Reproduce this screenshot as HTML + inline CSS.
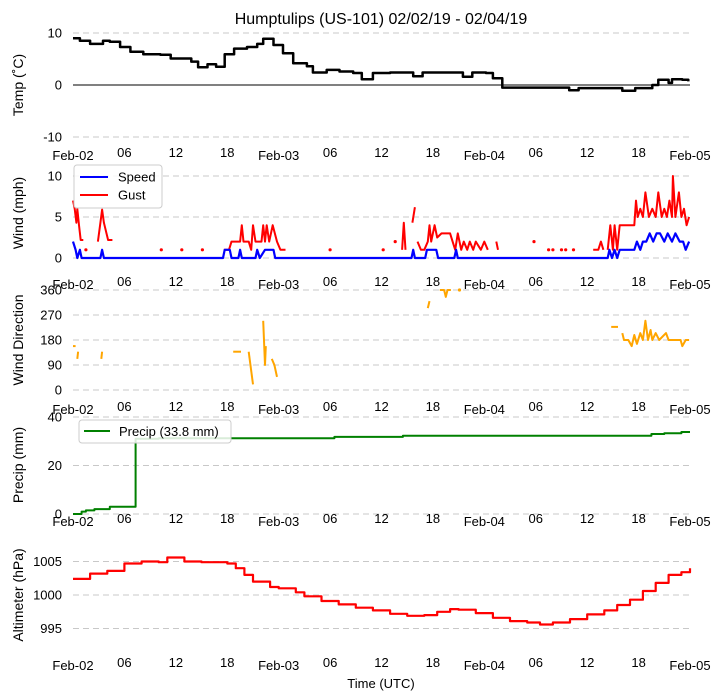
<!DOCTYPE html>
<html><head><meta charset="utf-8"><style>
body{margin:0;background:#fff}
svg{display:block;font-family:"Liberation Sans","DejaVu Sans",sans-serif}
</style></head><body>
<svg id="c" width="722" height="700" viewBox="0 0 722 700">
<text x="381" y="24" text-anchor="middle" font-size="16">Humptulips (US-101) 02/02/19 - 02/04/19</text>
<text x="381" y="688" text-anchor="middle" font-size="13">Time (UTC)</text>
</svg>
<script>
const xTickLabels=["Feb-02","06","12","18","Feb-03","06","12","18","Feb-04","06","12","18","Feb-05"];
const tempHours=[0,0.8,2,3.5,4.3,5.5,6.7,8.2,10.2,11.4,13,13.8,14.6,15.7,16.7,17.7,18.8,20.3,21.5,22.2,23.4,24.5,25.7,27.3,28,29.6,31.1,32.7,33.7,35,37,38.9,39.7,40.8,44.7,45.5,46.6,48.2,49,50.1,57.1,57.9,59,63.3,64.1,65.6,67.6,68.3,69.5,69.9,71.1,71.8];
const tempVals=[9.0,8.5,7.9,8.5,8.3,7.3,6.4,5.9,5.8,5.1,5.1,4.5,3.4,4.0,3.5,5.9,7.0,7.3,7.9,8.9,7.7,6.1,4.2,3.6,2.4,2.9,2.6,2.3,1.1,2.3,2.4,2.4,1.7,2.4,2.4,1.6,2.4,2.3,1.3,-0.5,-0.5,-1.0,-0.6,-0.6,-1.1,-0.6,0,1.0,0.4,1.1,1.0,0.7];
const speedHours=[0,0.3,0.5,0.8,1,3.2,3.4,3.6,17.5,17.7,18.3,18.5,19.3,19.5,19.7,21.3,21.5,21.8,22.4,22.6,23.4,23.6,39.5,39.7,39.9,41.1,41.3,42.4,42.6,44.5,44.7,44.9,62.4,62.6,62.9,63.2,63.5,63.8,64.2,65.5,65.8,66.2,66.5,66.9,67.3,67.7,68.1,68.5,69,69.4,69.9,70.3,70.8,71.2,71.5,71.9];
const speedVals=[2,1,0,1,0,0,1,0,0,1,1,0,0,1,0,0,1,0,1,1,1,0,0,1,0,0,1,1,0,0,1,0,0,1,0,1,0,1,1,1,2,1,2,2,3,2,3,3,2,3,2,3,2,2,1,2];
const gustHours=[0,0.2,0.4,0.5,0.7,0.9,1.2,null,1.5,null,2.9,3.2,3.4,3.6,4.1,4.6,null,10.3,null,12.7,null,15.1,null,17.6,18.2,18.5,19.5,19.7,19.9,20.5,20.8,21.0,21.3,22.0,22.2,22.4,22.6,22.9,23.3,23.8,24.2,24.8,null,30.0,null,36.2,null,37.6,null,38.4,38.6,38.8,null,39.6,39.9,null,40.2,40.6,41.0,41.4,41.6,41.8,42.2,42.5,43.0,44.0,44.3,44.6,44.9,45.3,45.6,46.0,46.3,46.7,47.0,47.6,48.0,48.4,null,49.4,49.6,null,53.8,null,55.5,null,56.0,null,57.0,null,57.5,null,58.4,null,60.7,61.3,61.6,61.9,null,62.4,62.7,63.0,63.2,63.5,63.8,65.5,65.7,65.9,66.2,66.5,66.8,67.2,67.6,68.0,68.3,68.7,69.0,69.3,69.6,69.9,70.0,70.3,70.7,71.0,71.3,71.6,71.9];
const gustVals=[7,6,4.3,6,4,2.2,2.2,null,1,null,2,4.3,5.9,4.3,2.2,2.2,null,1,null,1,null,1,null,1,1,2,2,4,2,2,1,4,2,2,4,2,4,2,4,2,1,1,null,1,null,1,null,2,null,1,4.3,1,null,4.3,6.2,null,2,1,1,2,4,2,4,2.5,3,3,2,1,3,1,2,1,2,1,2,1,2,1,null,2,1,null,2,null,1,null,1,null,1,null,1,null,1,null,1,1,2,1,null,1,4,1,4,1,4,4,7,5,6,5,8,5,6,5,8,5,6,5,7,5,10,5,8,5,6,4,5];
const dirHours=[0,0.3,null,0.5,0.6,null,3.3,3.4,null,18.7,19.6,null,20.5,21.0,null,22.2,22.4,22.5,null,23.2,23.5,23.8,null,41.4,41.6,null,42.8,43.3,43.5,43.7,44.1,null,45.1,null,62.8,63.6,null,64.1,64.3,64.8,65.2,65.5,65.8,66.2,66.5,66.8,67.1,67.4,67.6,68.0,68.4,69.2,69.5,70.9,71.1,71.5,71.9];
const dirVals=[158,158,null,112,138,null,112,138,null,138,138,null,138,20,null,249,90,158,null,112,90,47,null,295,320,null,360,360,335,360,360,null,360,null,227,227,null,205,180,180,158,198,166,205,180,249,180,216,180,205,180,205,180,180,158,180,180];
const precipHours=[0,1,1.5,2.5,4,4.3,7.2,7.3,10,30,30.5,38,38.5,67,67.5,69,71,72];
const precipVals=[0,1,1.5,2,2,3,3,31,31.2,31.2,31.8,31.8,32.3,32.3,33,33.3,33.8,33.8];
const altHours=[0,2,4,6,8,10,11,13,15,18,19,20,21,23,24,26,27,29,31,33,35,37,39,41,42.5,44,45,47,49,51,53,54.5,56,58,60,62,63.5,65,66.5,68,69.5,71,72];
const altVals=[1002.4,1003.2,1003.6,1004.7,1005,1004.9,1005.6,1005,1004.9,1004.7,1004,1003,1002,1001.2,1001,1000.4,999.8,999.1,998.6,998.1,997.7,997.2,996.9,997,997.5,997.9,997.8,997.3,996.6,996.1,995.9,995.6,995.9,996.4,997.1,997.7,998.5,999.3,1000.6,1001.8,1003,1003.4,1004.0];

const svg=document.getElementById('c');
const NS='http://www.w3.org/2000/svg';
function mk(tag,attrs,parent){const e=document.createElementNS(NS,tag);for(const k in attrs)e.setAttribute(k,attrs[k]);(parent||svg).appendChild(e);return e;}
const X=h=>73+h*617/72;
function lin(v0,p0,v1,p1){return v=>p0+(v-v0)*(p1-p0)/(v1-v0);}
const panels=[
 {name:'temp',y:lin(0,85,10,33),ticks:[-10,0,10],xl:153,title:'Temp (\u02daC)',tc:85},
 {name:'wind',y:lin(0,258,10,176),ticks:[0,5,10],xl:282,title:'Wind (mph)',tc:213},
 {name:'direction',y:lin(0,390,360,290),ticks:[0,90,180,270,360],xl:407,title:'Wind Direction',tc:340},
 {name:'precip',y:lin(0,514,40,417),ticks:[0,20,40],xl:519,title:'Precip (mm)',tc:465},
 {name:'altimeter',y:lin(1000,595,1005,561.5),ticks:[995,1000,1005],xl:663,title:'Altimeter (hPa)',tc:595}
];
panels.forEach(p=>{
 const g=mk('g',{});
 
 
 p.ticks.forEach(t=>{
  const yy=p.y(t);
  const solid=(p.name==='temp'&&t===0);
  const l=mk('line',{x1:73,x2:690,y1:yy,y2:yy,stroke:solid?'#000':'#c8c8c8','stroke-width':1,'stroke-dasharray':solid?'none':'6,4'},g);
  
  
  const tx=mk('text',{x:62,y:yy+4.5,'text-anchor':'end','font-size':13},g);
  tx.textContent=t;
  
  
 });
 xTickLabels.forEach((s,i)=>{
  const big=s.startsWith('Feb');
  const tx=mk('text',{x:X(i*6),y:p.xl+(big?7:4),'text-anchor':'middle','font-size':13},g);
  tx.textContent=s;
  
  
 });
 const tt=mk('text',{x:23,y:p.tc,'text-anchor':'middle','font-size':14,transform:'rotate(-90 23 '+p.tc+')'},g);
 tt.textContent=p.title;
 
 
});
function series(hours,vals,ys,color,name,step,w){
 const g=mk('g',{});
 
 
 let seg=[];
 const flush=()=>{
  if(seg.length===1){mk('circle',{cx:seg[0][0],cy:seg[0][1],r:1.6,fill:color},g);}
  else if(seg.length>1){mk('polyline',{points:seg.map(p=>p.join(',')).join(' '),fill:'none',stroke:color,'stroke-width':w||2,'stroke-linejoin':'round'},g);}
  seg=[];
 };
 hours.forEach((h,i)=>{
  if(h===null||vals[i]===null){flush();return;}
  const px=+X(h).toFixed(1),py=+ys(vals[i]).toFixed(1);
  if(step&&seg.length){seg.push([px,seg[seg.length-1][1]]);}
  seg.push([px,py]);
 });
 flush();
}
series(tempHours,tempVals,panels[0].y,'#000','temperature-line',true,2.5);
series(gustHours,gustVals,panels[1].y,'#ff0000','gust-line',false,2);
series(speedHours,speedVals,panels[1].y,'#0000ff','speed-line',false,2.2);
series(dirHours,dirVals,panels[2].y,'#ffa500','direction-line',false,2);
series(precipHours,precipVals,panels[3].y,'#008000','precip-line',true,2);
series(altHours,altVals,panels[4].y,'#ff0000','altimeter-line',true,2.2);

const lg=mk('g',{});


mk('rect',{x:74,y:165,width:88,height:43,rx:3,fill:'#fff','fill-opacity':0.85,stroke:'#ccc'},lg);
mk('line',{x1:80,x2:108,y1:177,y2:177,stroke:'#0000ff','stroke-width':2},lg);
mk('line',{x1:80,x2:108,y1:195,y2:195,stroke:'#ff0000','stroke-width':2},lg);
const s1=mk('text',{x:118,y:181.5,'font-size':13},lg);s1.textContent='Speed';


const s2=mk('text',{x:118,y:199.5,'font-size':13},lg);s2.textContent='Gust';


const pg=mk('g',{});


mk('rect',{x:79,y:420,width:152,height:23,rx:3,fill:'#fff','fill-opacity':0.85,stroke:'#ccc'},pg);
mk('line',{x1:84,x2:110,y1:431,y2:431,stroke:'#008000','stroke-width':2},pg);
const s3=mk('text',{x:119,y:436,'font-size':13},pg);s3.textContent='Precip (33.8 mm)';


</script>
</body></html>
